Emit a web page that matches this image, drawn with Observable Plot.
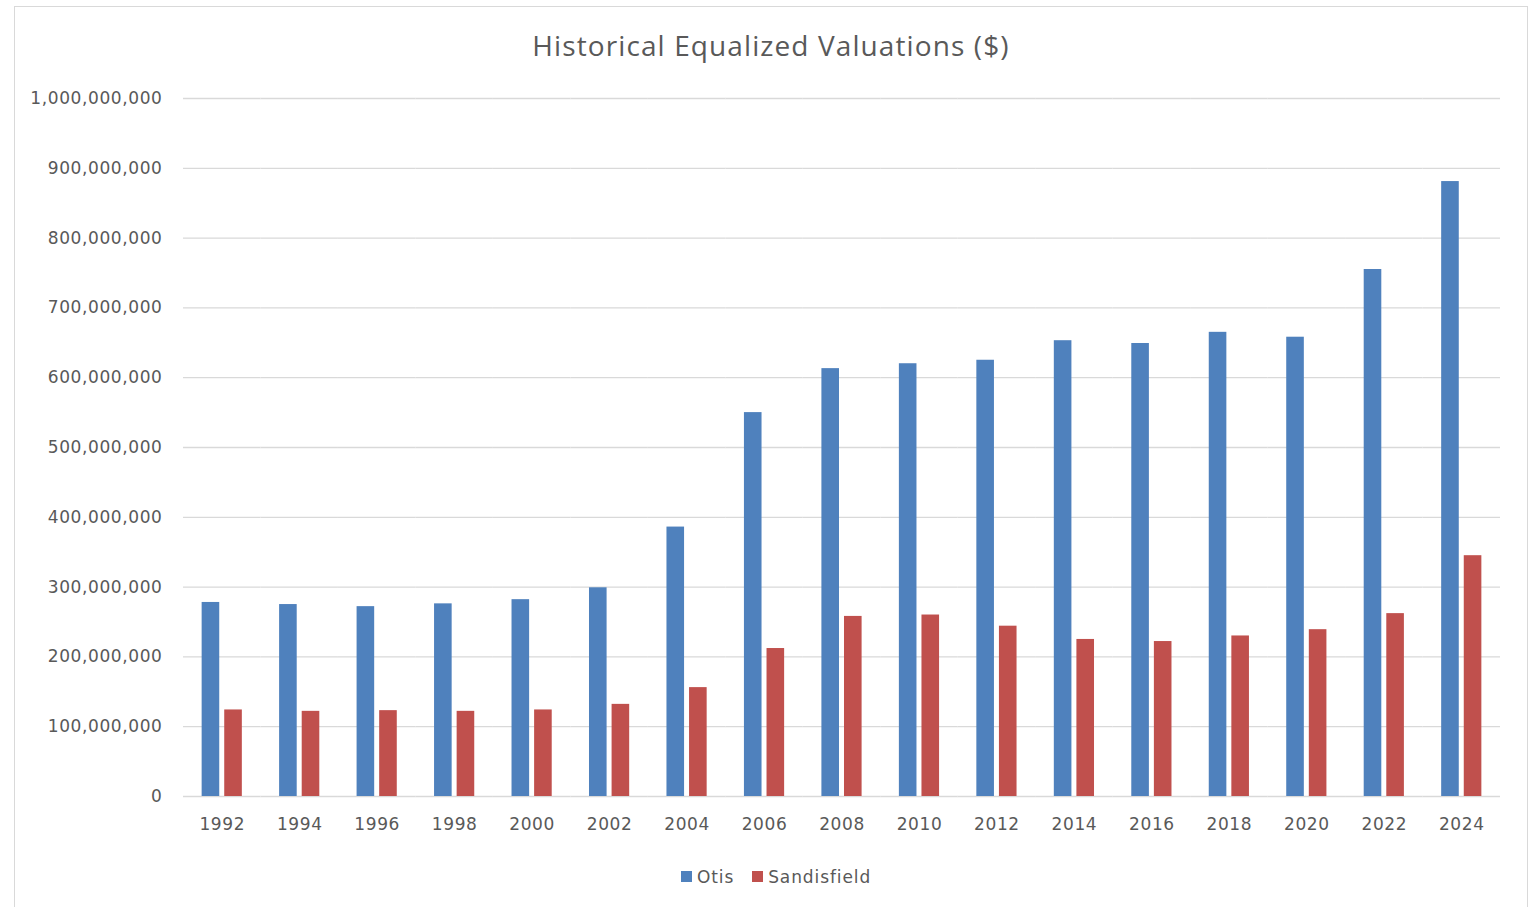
<!DOCTYPE html>
<html>
<head>
<meta charset="utf-8">
<script src="https://cdn.jsdelivr.net/npm/d3@7"></script>
<script src="https://cdn.jsdelivr.net/npm/@observablehq/plot@0.6"></script>
<style>
  html, body { margin: 0; padding: 0; background: #fff; }
  body { width: 1537px; height: 907px; position: relative; overflow: hidden; }
  #frame { position: absolute; left: 14px; top: 6px; width: 1514px; height: 920px; border: 1.5px solid #d9d9d9; box-sizing: border-box; }
  #title { position: absolute; left: 0; top: 26px; width: 1542px; text-align: center; font-family: "Open Sans", sans-serif; font-size: 28px; letter-spacing: 1.1px; color: #595959; }
  #chart { position: absolute; left: 0; top: 80px; }
  #legend { position: absolute; left: 0; top: 866px; width: 1552px; text-align: center; font-family: "DejaVu Sans", sans-serif; font-size: 17px; color: #595959; letter-spacing: 0.9px; }
  #legend span.item { display: inline-flex; align-items: center; margin: 0 9px; }
  #legend span.sw { display: inline-block; width: 11px; height: 11px; margin-right: 5px; }
</style>
</head>
<body>
<div id="frame"></div>
<div id="title">Historical Equalized Valuations ($)</div>
<div id="chart"></div>
<div id="legend"></div>
<script>
const years = [1992, 1994, 1996, 1998, 2000, 2002, 2004, 2006, 2008, 2010, 2012, 2014, 2016, 2018, 2020, 2022, 2024];
const series = ["Otis", "Sandisfield"];
const colors = ["#4f81bd", "#c0504d"];
// values in dollars (millions)
const otis = [278, 275, 272, 276, 282, 299, 386, 550, 613, 620, 625, 653, 649, 665, 658, 755, 881].map(v => v * 1e6);
const sandisfield = [124, 122, 123, 122, 124, 132, 156, 212, 258, 260, 244, 225, 222, 230, 239, 262, 345].map(v => v * 1e6);
const yTicks = [0, 100000000, 200000000, 300000000, 400000000, 500000000, 600000000, 700000000, 800000000, 900000000, 1000000000];

const data = [];
years.forEach((y, i) => {
  data.push({year: y, series: "Otis", value: otis[i]});
  data.push({year: y, series: "Sandisfield", value: sandisfield[i]});
});

const chart = Plot.plot({
  width: 1537,
  height: 756,
  marginLeft: 183,
  marginRight: 37,
  marginTop: 18,
  marginBottom: 40,
  style: {fontFamily: "DejaVu Sans, sans-serif", fontSize: "17px", color: "#595959", background: "transparent", letterSpacing: "0.6px"},
  fx: {domain: years, padding: 0, round: false, label: null, axis: null},
  x: {domain: series, axis: null, paddingInner: 0.221, paddingOuter: 0.825, round: false},
  y: {domain: [0, 1000000000], axis: null},
  color: {domain: series, range: colors},
  marks: [
    Plot.ruleY(yTicks, {stroke: "#d9d9d9", strokeWidth: 1.3}),
    Plot.barY(data, {fx: "year", x: "series", y: "value", fill: "series"}),
    Plot.axisY({ticks: yTicks, tickFormat: d3.format(","), tickSize: 0, tickPadding: 21, label: null, fill: "#595959"}),
    Plot.axisFx({domain: years, anchor: "bottom", tickSize: 0, tickPadding: 21, label: null, fill: "#595959", tickFormat: d => String(d)})
  ]
});
document.getElementById("chart").appendChild(chart);

const legend = document.getElementById("legend");
series.forEach((s, i) => {
  const item = document.createElement("span");
  item.className = "item";
  const sw = document.createElement("span");
  sw.className = "sw";
  sw.style.background = colors[i];
  item.appendChild(sw);
  item.appendChild(document.createTextNode(s));
  legend.appendChild(item);
});
</script>
</body>
</html>
